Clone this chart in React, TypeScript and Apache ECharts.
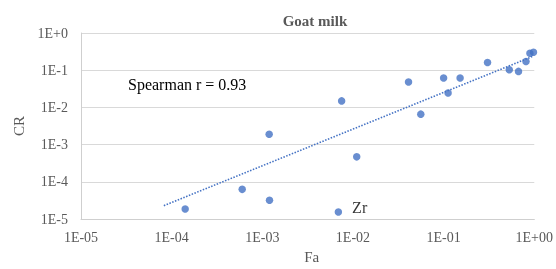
import React, { useEffect, useRef } from "react";
import * as echarts from "echarts";

const chartTitle = "Goat milk";
const xAxisName = "Fa";
const yAxisName = "CR";
const xTickLabels = ["1E-05", "1E-04", "1E-03", "1E-02", "1E-01", "1E+00"];
const yTickLabels = ["1E-5", "1E-4", "1E-3", "1E-2", "1E-1", "1E+0"];

// Element points (Fa, CR)
const faValues = [1.41e-4, 6.0e-4, 1.2e-3, 1.19e-3, 6.9e-3, 7.5e-3, 1.1e-2, 4.1e-2, 5.6e-2, 0.1, 0.112, 0.152, 0.305, 0.53, 0.67, 0.81, 0.895, 0.98];
const crValues = [1.86e-5, 6.3e-5, 3.2e-5, 1.9e-3, 1.55e-5, 1.5e-2, 4.7e-4, 4.8e-2, 6.6e-3, 0.062, 0.0245, 0.062, 0.161, 0.103, 0.093, 0.171, 0.287, 0.305];
const pointNames = ["", "", "", "", "Zr", "", "", "", "", "", "", "", "", "", "", "", "", ""];

// Power trend line end points
const trendFa = [8.2e-5, 0.95];
const trendCr = [2.3e-5, 0.233];

const annotationText = "Spearman r = 0.93";

const FONT = "'Liberation Serif', 'Times New Roman', serif";
const GREY = "#595959";
const BLUE = "#4472C4";

export default function App() {
  const ref = useRef<HTMLDivElement>(null);
  useEffect(() => {
    if (!ref.current) return;
    const chart = echarts.init(ref.current, undefined, { renderer: "svg" });
    const points = faValues.map((x, i) => {
      const item: any = { value: [x, crValues[i]] };
      if (pointNames[i]) {
        item.label = {
          show: true,
          formatter: pointNames[i],
          position: "right",
          distance: 10,
          offset: [0, -5],
          fontFamily: FONT,
          fontSize: 16,
          color: "#000",
        };
      }
      return item;
    });
    chart.setOption({
      animation: false,
      title: {
        text: chartTitle,
        left: 310,
        textAlign: "center",
        top: 8,
        textStyle: { fontFamily: FONT, fontSize: 15, fontWeight: "bold", color: GREY },
      },
      grid: { left: 81, right: 21, top: 33, bottom: 49 },
      xAxis: {
        type: "log",
        logBase: 10,
        min: 1e-5,
        max: 1,
        name: xAxisName,
        nameLocation: "middle",
        nameGap: 23,
        nameTextStyle: { fontFamily: FONT, fontSize: 15, color: GREY, padding: [0, 0, 0, 8] },
        axisLine: { show: true, lineStyle: { color: "#cfcfcf" } },
        axisTick: { show: false },
        splitLine: { show: false },
        axisLabel: {
          fontFamily: FONT,
          fontSize: 14,
          color: GREY,
          margin: 11,
          formatter: (v: number) => xTickLabels[Math.round(Math.log10(v)) + 5],
        },
      },
      yAxis: {
        type: "log",
        logBase: 10,
        min: 1e-5,
        max: 1,
        name: yAxisName,
        nameLocation: "middle",
        nameGap: 54,
        nameTextStyle: { fontFamily: FONT, fontSize: 15, color: GREY },
        axisLine: { show: true, lineStyle: { color: "#cfcfcf" } },
        axisTick: { show: false },
        splitLine: { show: true, lineStyle: { color: "#d9d9d9" } },
        axisLabel: {
          fontFamily: FONT,
          fontSize: 14,
          color: GREY,
          margin: 13,
          formatter: (v: number) => yTickLabels[Math.round(Math.log10(v)) + 5],
        },
      },
      graphic: [
        {
          type: "text",
          left: 128,
          top: 76,
          style: { text: annotationText, fontFamily: FONT, fontSize: 16, fill: "#000" },
        },
      ],
      series: [
        {
          type: "line",
          data: trendFa.map((x, i) => [x, trendCr[i]]),
          symbol: "none",
          lineStyle: { color: BLUE, width: 1.6, type: [1.5, 1.5] },
          z: 1,
        },
        {
          type: "scatter",
          data: points,
          symbolSize: 7.5,
          itemStyle: { color: BLUE },
          z: 2,
        },
      ],
    });
    return () => chart.dispose();
  }, []);
  return (
    <div
      ref={ref}
      style={{ position: "fixed", left: 0, top: 0, width: 556, height: 269 }}
    />
  );
}
